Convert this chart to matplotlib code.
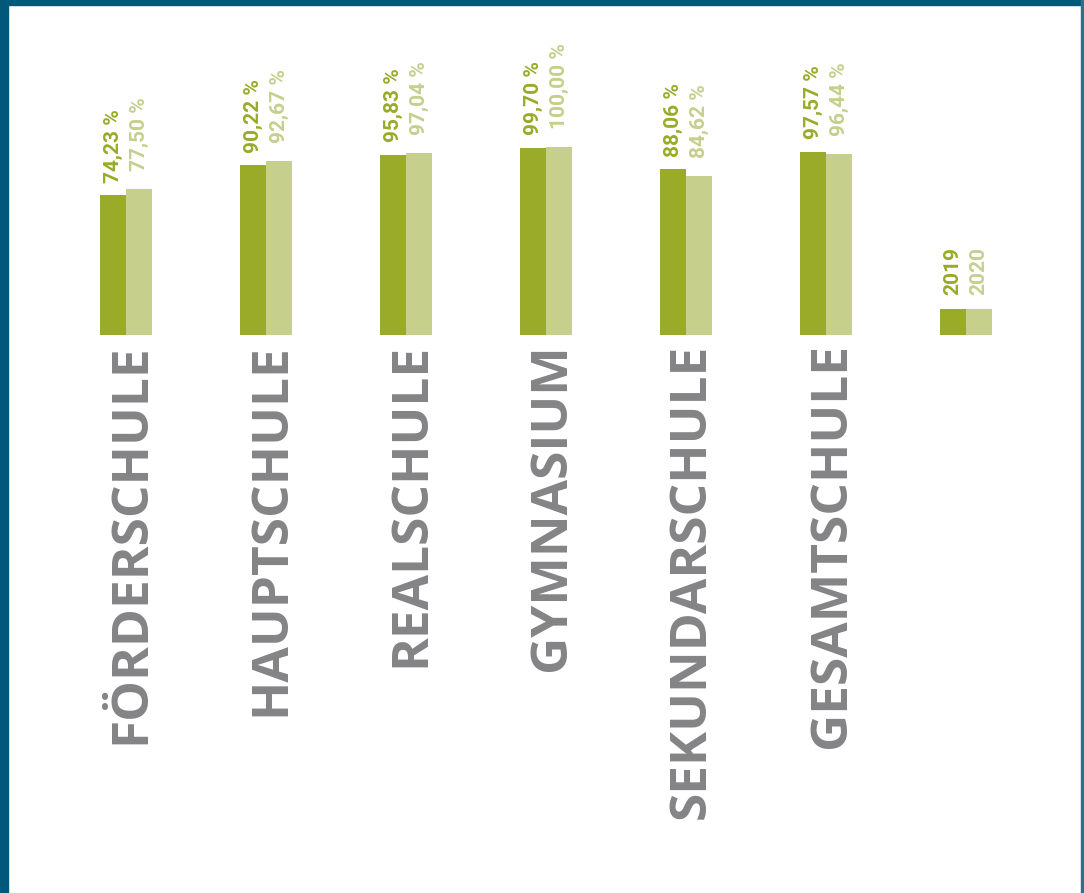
import matplotlib.pyplot as plt
import numpy as np
from matplotlib.patches import Rectangle

# Daten
schulformen = ['FÖRDERSCHULE', 'HAUPTSCHULE', 'REALSCHULE', 'GYMNASIUM',
               'SEKUNDARSCHULE', 'GESAMTSCHULE']
werte_2019 = [74.23, 90.22, 95.83, 99.70, 88.06, 97.57]
werte_2020 = [77.50, 92.67, 97.04, 100.00, 84.62, 96.44]
jahre = ['2019', '2020']

farbe_2019 = '#99ab28'
farbe_2020 = '#c6cf8c'
grau = '#848487'
rand = '#00597b'

def fmt(v):
    return ('%.2f' % v).replace('.', ',') + ' %'

fig = plt.figure(figsize=(10.84, 8.93), dpi=100)
fig.patch.set_facecolor('white')

# Rahmen
fig.patches.append(Rectangle((0, 0), 8 / 1084, 1, transform=fig.transFigure, color=rand, zorder=0))
fig.patches.append(Rectangle((0, 1 - 5 / 893), 1, 5 / 893, transform=fig.transFigure, color=rand, zorder=0))
fig.patches.append(Rectangle((1 - 3 / 1084, 0), 2 / 1084, 1, transform=fig.transFigure, color='#2f6f88', zorder=0))

ax = fig.add_axes([0, (893 - 335) / 893, 1, 335 / 893])
ax.set_ylim(0, 335 / 1.88)
ax.set_xlim(-126 / 140, (1084 - 126) / 140)
ax.axis('off')

x = np.arange(len(schulformen))
b = 26 / 140
ax.bar(x - b / 2, werte_2019, b, color=farbe_2019)
ax.bar(x + b / 2, werte_2020, b, color=farbe_2020)

wfont = 'Roboto'
for i in range(len(x)):
    ax.annotate(fmt(werte_2019[i]), (x[i] - b / 2, werte_2019[i]), xytext=(0, 9),
                textcoords='offset points', rotation=90, ha='center', va='bottom',
                color=farbe_2019, fontsize=15, fontweight='bold', family=wfont)
    ax.annotate(fmt(werte_2020[i]), (x[i] + b / 2, werte_2020[i]), xytext=(0, 13),
                textcoords='offset points', rotation=90, ha='center', va='bottom',
                color=farbe_2020, fontsize=15, fontweight='bold', family=wfont)
    ax.annotate(schulformen[i], (x[i], 0), xytext=(4, -6),
                textcoords='offset points', rotation=90, ha='center', va='top',
                color=grau, fontsize=37, fontweight='bold', family='Open Sans',
                annotation_clip=False)

# Legende
lx = len(schulformen)
ax.bar([lx - b / 2], [26 / 1.88], b, color=farbe_2019)
ax.bar([lx + b / 2], [26 / 1.88], b, color=farbe_2020)
for j, (jahr, farbe) in enumerate(zip(jahre, [farbe_2019, farbe_2020])):
    ax.annotate(jahr, (lx + (j - 0.5) * b, 26 / 1.88), xytext=(0, 10),
                textcoords='offset points', rotation=90, ha='center', va='bottom',
                color=farbe, fontsize=15, fontweight='bold', family=wfont)

fig.savefig('out.png', dpi=100, facecolor='white')
